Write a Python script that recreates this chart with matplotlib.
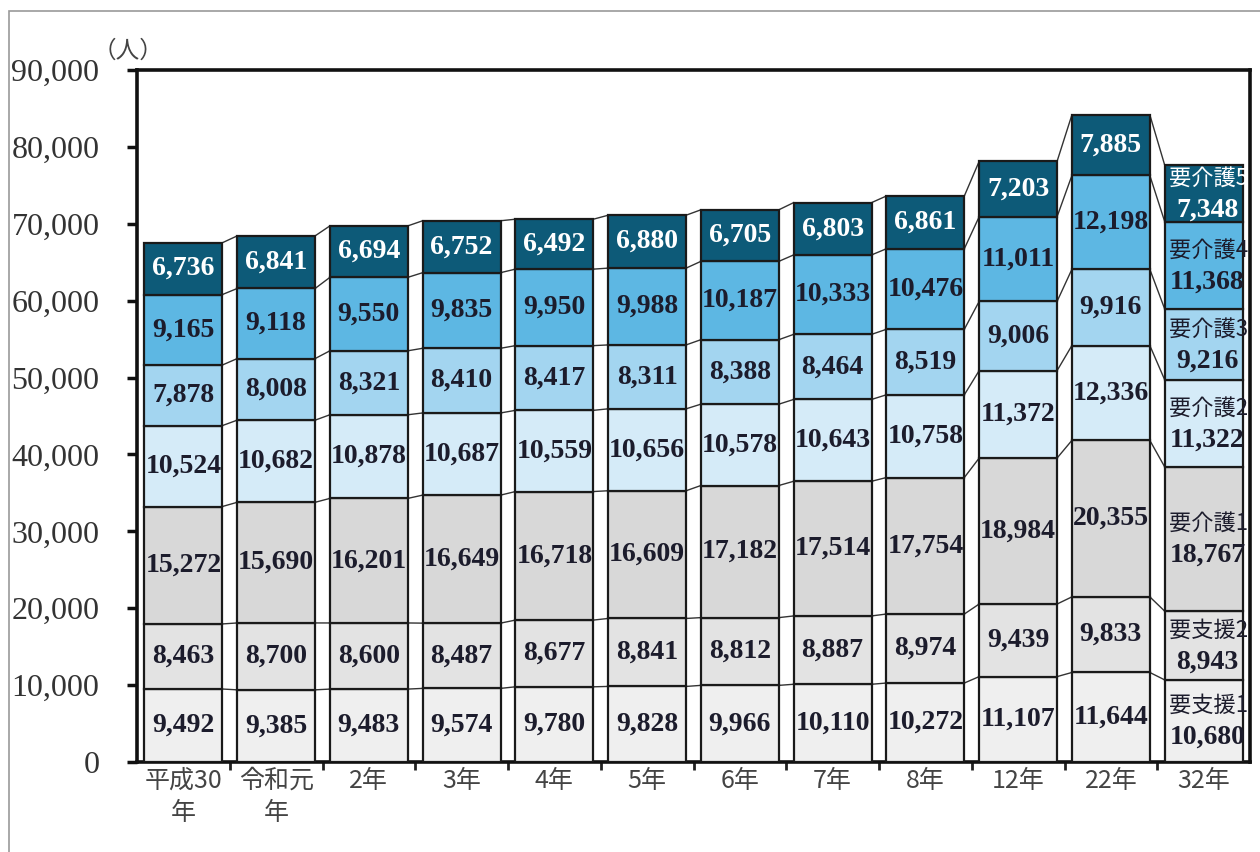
import numpy as np
import matplotlib.pyplot as plt
from matplotlib.patches import Rectangle

# 年次ラベル
years = ["平成30\n年", "令和元\n年", "2年", "3年", "4年", "5年", "6年", "7年", "8年", "12年", "22年", "32年"]

# 区分
levels = ["要支援1", "要支援2", "要介護1", "要介護2", "要介護3", "要介護4", "要介護5"]

# 各区分の人数
shien1 = [9492, 9385, 9483, 9574, 9780, 9828, 9966, 10110, 10272, 11107, 11644, 10680]
shien2 = [8463, 8700, 8600, 8487, 8677, 8841, 8812, 8887, 8974, 9439, 9833, 8943]
kaigo1 = [15272, 15690, 16201, 16649, 16718, 16609, 17182, 17514, 17754, 18984, 20355, 18767]
kaigo2 = [10524, 10682, 10878, 10687, 10559, 10656, 10578, 10643, 10758, 11372, 12336, 11322]
kaigo3 = [7878, 8008, 8321, 8410, 8417, 8311, 8388, 8464, 8519, 9006, 9916, 9216]
kaigo4 = [9165, 9118, 9550, 9835, 9950, 9988, 10187, 10333, 10476, 11011, 12198, 11368]
kaigo5 = [6736, 6841, 6694, 6752, 6492, 6880, 6705, 6803, 6861, 7203, 7885, 7348]

series = [shien1, shien2, kaigo1, kaigo2, kaigo3, kaigo4, kaigo5]
colors = ["#efefef", "#e3e3e3", "#d8d8d8", "#d5ebf8", "#a3d5f0", "#5db7e3", "#0d5a78"]
text_colors = ["#1c1c2c"] * 6 + ["white"]

num_font = "Liberation Serif"
jp_font = "Noto Sans CJK JP"

fig = plt.figure(figsize=(12.6, 8.52), dpi=100)
ax = fig.add_axes([137 / 1260, 1 - 762 / 852, (1250 - 137) / 1260, (762 - 70) / 852])

x = np.arange(len(years))
w = 0.84
data = np.array(series)
cum = np.vstack([np.zeros(len(years)), np.cumsum(data, axis=0)])

# 積み上げ棒
for k in range(len(levels)):
    ax.bar(x, data[k], w, bottom=cum[k], color=colors[k], edgecolor="#1a1a1a",
           linewidth=1.6, zorder=3)

# 棒の間をつなぐ線
for k in range(1, len(cum)):
    for i in range(len(years) - 1):
        ax.plot([x[i] + w / 2, x[i + 1] - w / 2], [cum[k][i], cum[k][i + 1]],
                color="#333333", linewidth=1.0, zorder=2)

# 数値ラベル
last = len(years) - 1
for k in range(len(levels)):
    for i in range(len(years)):
        yc = cum[k][i] + data[k][i] / 2
        val = f"{data[k][i]:,}"
        if i == last:
            ax.annotate(levels[k], (x[i] + 0.05, yc), xytext=(0, 11), textcoords="offset points",
                        ha="center", va="center", fontsize=16, color=text_colors[k],
                        family=jp_font, zorder=5)
            ax.annotate(val, (x[i] + 0.04, yc), xytext=(0, -12), textcoords="offset points",
                        ha="center", va="center", fontsize=20, fontweight="bold",
                        color=text_colors[k], family=num_font, zorder=5)
        else:
            ax.text(x[i], yc, val, ha="center", va="center", fontsize=20,
                    fontweight="bold", color=text_colors[k], family=num_font, zorder=5)

ax.set_xlim(-0.5, len(years) - 0.5)
ax.set_ylim(0, 90000)
ax.set_yticks(np.arange(0, 90001, 10000))
ax.set_yticklabels([f"{v:,}" for v in range(0, 90001, 10000)], family=num_font,
                   fontsize=23, color="#333333")
ax.set_xticks(x)
ax.set_xticklabels(years, family=jp_font, fontsize=18, color="#444444", linespacing=1.3)
ax.tick_params(axis="x", length=0, pad=4)
ax.set_xticks(np.arange(0.5, len(years) - 0.5, 1), minor=True)
ax.tick_params(axis="x", which="minor", length=6, width=2, direction="out", color="#222222")
ax.tick_params(axis="y", length=7, width=2.5, direction="out", color="#111111", pad=20)

for s in ax.spines.values():
    s.set_linewidth(2.6)
    s.set_color("#111111")

ax.annotate("（人）", (0, 1), xycoords="axes fraction", xytext=(-32, 5),
            textcoords="offset points", ha="left", va="bottom",
            family=jp_font, fontsize=17, color="#444444")

# 外枠
fig.patches.append(Rectangle((9 / 1260, -0.1), 1.2, 1 - 11 / 852 + 0.1,
                             transform=fig.transFigure, fill=False,
                             edgecolor="#999999", linewidth=1.2))

fig.savefig("out.png", dpi=100, facecolor="white")
